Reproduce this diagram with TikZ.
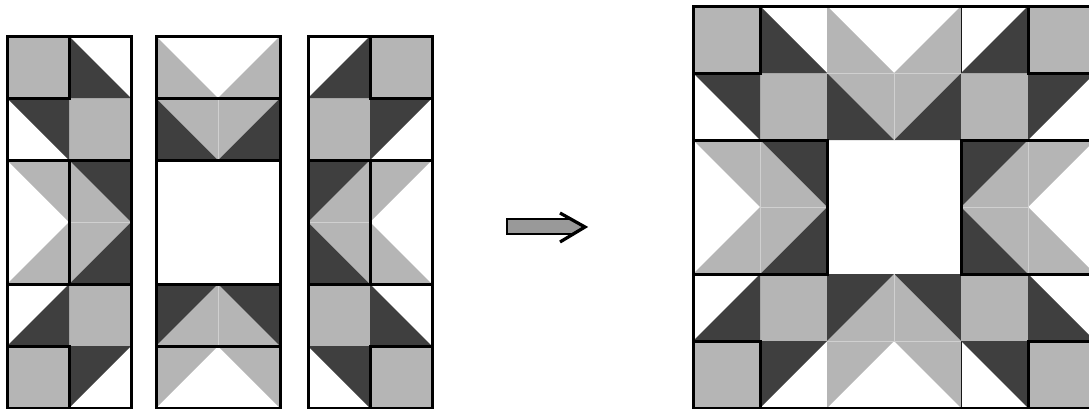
\documentclass[tikz,border=0pt]{standalone}
\definecolor{qgray}{RGB}{181,181,181}
\definecolor{qdark}{RGB}{63,63,63}
\definecolor{qseam}{RGB}{208,208,208}
\definecolor{qarrow}{RGB}{153,153,153}
\tikzset{
  gridline/.style={line width=0.8pt, draw=black},
  seamline/.style={line width=0.5pt, draw=qseam},
  boldline/.style={line width=3pt, draw=black, line join=miter},
  arrowbody/.style={line width=1.6pt, draw=black, fill=qarrow, line join=miter},
  arrowhead/.style={line width=3.2pt, draw=black, line join=miter},
}
% strip A: two columns (x 0..2), six rows (y 0..6, downward)
\newcommand\stripAfill{%
  \fill[qgray] (0,0) rectangle (1,1) (1,1) rectangle (2,2) (1,4) rectangle (2,5) (0,5) rectangle (1,6);
  \fill[qdark] (1,0)--(1,1)--(2,1)--cycle (0,1)--(1,1)--(1,2)--cycle
               (0,5)--(1,4)--(1,5)--cycle (1,5)--(2,5)--(1,6)--cycle;
  \fill[qgray] (0,2)--(1,2)--(1,4)--(0,4)--(1,3)--cycle;
  \fill[qdark] (1,2) rectangle (2,4);
  \fill[qgray] (1,2)--(2,3)--(1,4)--cycle;
  \draw[seamline] (1,3)--(2,3) (1,2)--(1,4);
}
% strip B: middle two columns
\newcommand\stripBfill{%
  \fill[qgray] (0,0)--(1,1)--(0,1)--cycle (2,0)--(2,1)--(1,1)--cycle;
  \fill[qdark] (0,1) rectangle (2,2) (0,4) rectangle (2,5);
  \fill[qgray] (0,1)--(2,1)--(1,2)--cycle (0,5)--(2,5)--(1,4)--cycle;
  \fill[qgray] (0,5)--(1,5)--(0,6)--cycle (2,5)--(2,6)--(1,5)--cycle;
  \draw[seamline] (0,1)--(2,1) (1,1)--(1,2) (0,5)--(2,5) (1,4)--(1,5);
}
\begin{document}
\begin{tikzpicture}[x=1pt,y=-1pt]
\useasboundingbox (0,0) rectangle (1089,408);
\clip (0,0) rectangle (1089,408);
% ---- strip 1
\begin{scope}[shift={(7,36)},x=62pt,y=-62pt]
  \stripAfill
  \draw[boldline] (0,0) rectangle (2,6) (0,0) rectangle (1,1) (0,5) rectangle (1,6)
                  (0,2) rectangle (2,4) (1,2)--(1,4);
\end{scope}
% ---- strip 2
\begin{scope}[shift={(156,36)},x=62pt,y=-62pt]
  \stripBfill
  \draw[boldline] (0,0) rectangle (2,6) (0,1)--(2,1) (0,2)--(2,2) (0,4)--(2,4) (0,5)--(2,5);
\end{scope}
% ---- strip 3 (mirror of strip 1)
\begin{scope}[shift={(432,36)},x=62pt,y=-62pt,xscale=-1]
  \stripAfill
  \draw[boldline] (0,0) rectangle (2,6) (0,0) rectangle (1,1) (0,5) rectangle (1,6)
                  (0,2) rectangle (2,4) (1,2)--(1,4);
\end{scope}
% ---- arrow
\draw[arrowbody] (507,219)--(571,219)--(584,227)--(572,234)--(507,234)--cycle;
\draw[arrowhead] (560,213)--(585,227)--(560,242);
% ---- assembled block
\begin{scope}[shift={(693,6)},x=67pt,y=-67pt]
  \draw[gridline] (2,0)--(2,6) (4,0)--(4,6);
  \stripAfill
  \begin{scope}[shift={(2,0)}]\stripBfill\end{scope}
  \begin{scope}[shift={(6,0)},xscale=-1]\stripAfill\end{scope}
  \draw[boldline] (0,0) rectangle (6,6)
                  (0,0) rectangle (1,1) (5,0) rectangle (6,1)
                  (0,5) rectangle (1,6) (5,5) rectangle (6,6)
                  (0,2) rectangle (2,4) (4,2) rectangle (6,4);
\end{scope}
\end{tikzpicture}
\end{document}
